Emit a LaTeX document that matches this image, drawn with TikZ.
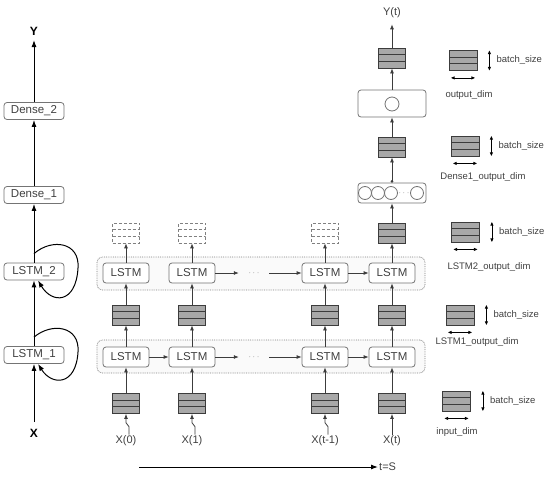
\documentclass[tikz,border=0pt]{standalone}
\usepackage{fontspec}
\setmainfont{Liberation Sans}
\usetikzlibrary{positioning, arrows.meta, shapes.geometric}

\definecolor{tgray}{HTML}{A8A8A8}
\definecolor{edge}{HTML}{3C3C3C}
\definecolor{boxline}{HTML}{747474}
\definecolor{txt}{HTML}{404040}

\tikzset{
  arr/.style={draw=edge, line width=0.8pt, -{Latex[length=5pt,width=4pt]}},
  bigarr/.style={draw=black, line width=1pt, -{Latex[length=7pt,width=5pt]}},
  dimarr/.style={draw=black, line width=0.8pt, {Latex[length=4pt,width=3.5pt]}-{Latex[length=4pt,width=3.5pt]}},
  cell/.style={draw=boxline, line width=0.8pt, rounded corners=3pt, fill=white, text=txt,
    minimum width=46pt, minimum height=20pt, inner sep=0pt, font=\fontsize{11.5}{13}\selectfont},
  layer/.style={draw=boxline, line width=0.8pt, rounded corners=3pt, fill=white, text=txt,
    minimum width=60pt, minimum height=17pt, inner sep=0pt, font=\fontsize{11.5}{13}\selectfont},
  group/.style={draw=gray, densely dotted, line width=0.8pt, rounded corners=5pt, fill=gray!4,
    minimum width=328pt, minimum height=33pt, inner sep=0pt},
  tensor/.style={draw=edge, line width=0.8pt, fill=tgray, minimum width=27pt, minimum height=20pt, inner sep=0pt,
    path picture={\draw[edge, line width=0.8pt]
      ([yshift=3.33pt]path picture bounding box.west) -- ([yshift=3.33pt]path picture bounding box.east)
      ([yshift=-3.33pt]path picture bounding box.west) -- ([yshift=-3.33pt]path picture bounding box.east);}},
  ghost/.style={draw=gray, densely dashed, line width=0.7pt, minimum width=27pt, minimum height=20pt, inner sep=0pt,
    path picture={\draw[gray, densely dashed, line width=0.7pt]
      ([yshift=3.33pt]path picture bounding box.west) -- ([yshift=3.33pt]path picture bounding box.east)
      ([yshift=-3.33pt]path picture bounding box.west) -- ([yshift=-3.33pt]path picture bounding box.east);}},
  fcbox/.style={draw=boxline, line width=0.8pt, rounded corners=3pt, fill=white, minimum width=68pt, inner sep=0pt},
  neuron/.style={circle, draw=boxline, line width=0.8pt, fill=white, minimum size=13pt, inner sep=0pt},
  lbl/.style={text=txt, font=\fontsize{11}{13}\selectfont, inner sep=1pt},
  dimlbl/.style={text=txt, font=\fontsize{9.5}{11}\selectfont, inner sep=0pt},
  big/.style={font=\bfseries\fontsize{12}{14}\selectfont, inner sep=0pt},
  dots/.style={text=gray, font=\fontsize{9}{10}\selectfont, inner sep=0pt, minimum width=30pt},
}

\begin{document}
\begin{tikzpicture}[x=1pt, y=-1pt]
    \useasboundingbox (0,0) rectangle (550,477);

    % Model stack (left)
    \node[layer] (n1) at (34,355) {LSTM\_1};
    \node[layer] (n2) at (34,271.5) {LSTM\_2};
    \node[layer] (d1) at (34,195) {Dense\_1};
    \node[layer] (d2) at (34,111) {Dense\_2};
    \node[big] (xin) at (34,433) {X};
    \node[big] (yout) at (34,31) {Y};
    \draw[bigarr, shorten <=11pt] (xin.center) -- (n1);
    \draw[bigarr] (n1) -- (n2);
    \draw[bigarr] (n2) -- (d1);
    \draw[bigarr] (d1) -- (d2);
    \draw[bigarr, shorten >=9pt] (d2) -- (yout.center);
    % recurrent loops
    \draw[bigarr] ([yshift=9pt]n1.north) .. controls (52,322) and (80,326) .. (78,352)
        .. controls (76,386) and (52,386) .. ([xshift=4pt]n1.south);
    \draw[bigarr] ([yshift=9pt]n2.north) .. controls (52,238) and (80,242) .. (78,268)
        .. controls (76,304) and (52,304) .. ([xshift=4pt]n2.south);

    % Layer groups (unrolled)
    \node[group] (g1) at (261,356.5) {};
    \node[group] (g2) at (261,273.5) {};

    % Time steps
    \foreach \i/\x/\lab in {0/126/X(0), 1/192/X(1), 2/325/X(t-1), 3/392/X(t)} {
        \node[tensor] (in\i) at (\x,403.5) {};
        \node[lbl] (xl\i) at (\x,441) {\lab};
        \node[cell] (la\i) at (\x,357) {LSTM};
        \node[tensor] (h\i) at (\x,315) {};
        \node[cell] (lb\i) at (\x,273) {LSTM};
        \draw[arr] (in\i) -- (la\i);
        \draw[arr] (la\i) -- (h\i);
        \draw[arr] (h\i) -- (lb\i);
    }
    \foreach \i/\x in {0/126, 1/192, 2/325} {
        \node[ghost] (o\i) at (\x,233) {};
        \draw[arr] (lb\i) -- (o\i);
        % bent input line
        \draw[arr] ([xshift=3pt]xl\i.north) -- ++(0,-8) -- ++(-3,-4) -- (in\i.south);
    }
    \draw[arr] (xl3) -- (in3);

    % Recurrence along time
    \node[dots] (da) at (254,357) {$\cdots$};
    \node[dots] (db) at (254,273) {$\cdots$};
    \draw[arr] (la0) -- (la1);
    \draw[arr] (la1) -- (da);
    \draw[arr] (da) -- (la2);
    \draw[arr] (la2) -- (la3);
    \draw[arr] (lb1) -- (db);
    \draw[arr] (db) -- (lb2);
    \draw[arr] (lb2) -- (lb3);

    % Dense head (last step)
    \node[tensor] (o3) at (392,233) {};
    \node[fcbox, minimum height=20pt] (fc1) at (392,193) {};
    \foreach \j/\x in {1/365, 2/378, 3/391, 4/417} {
        \node[neuron] (c\j) at (\x,193) {};
    }
    \node[dots, minimum width=0pt] (cd) at (404,193) {$\cdots$};
    \node[tensor] (t1) at (392,147) {};
    \node[fcbox, minimum height=27pt] (fc2) at (392,103.5) {};
    \node[neuron, minimum size=14pt] (c5) at (392,104) {};
    \node[tensor] (t2) at (392,58) {};
    \node[lbl] (yt) at (392,13) {Y(t)};
    \draw[arr] (lb3) -- (o3);
    \draw[arr] (o3) -- (fc1);
    \draw[draw=edge, line width=0.8pt, {Circle[length=2.5pt]}-{Latex[length=5pt,width=4pt]}] (fc1) -- (t1);
    \draw[arr] (t1) -- (fc2);
    \draw[arr] (fc2) -- (t2);
    \draw[arr, shorten >=5pt] (t2) -- (yt);

    % Time axis
    \coordinate (tstart) at (139,467);
    \node[lbl, anchor=west] (ts) at (378,467) {t=S};
    \draw[bigarr] (tstart) -- (ts);

    % Shapes legend (right)
    \foreach \i/\cx/\cy/\lx/\ly/\dimtxt in {1/463/60.5/469/95/output\_dim,
        2/465/146/483/177/Dense1\_output\_dim, 3/465.5/232/489/267/LSTM2\_output\_dim,
        4/460/315/477/342/LSTM1\_output\_dim, 5/456.5/401/457/432/input\_dim} {
        \node[tensor, minimum width=28pt] (lg\i) at (\cx,\cy) {};
        \draw[dimarr] ([xshift=12pt]lg\i.north east) -- ([xshift=12pt]lg\i.south east);
        \node[dimlbl, anchor=west] (bs\i) at ([xshift=19pt]lg\i.east) {batch\_size};
        \draw[dimarr] ([shift={(2pt,-7pt)}]lg\i.south west) -- ([shift={(-2pt,-7pt)}]lg\i.south east);
        \node[dimlbl] (dl\i) at (\lx,\ly) {\dimtxt};
    }
\end{tikzpicture}
\end{document}
